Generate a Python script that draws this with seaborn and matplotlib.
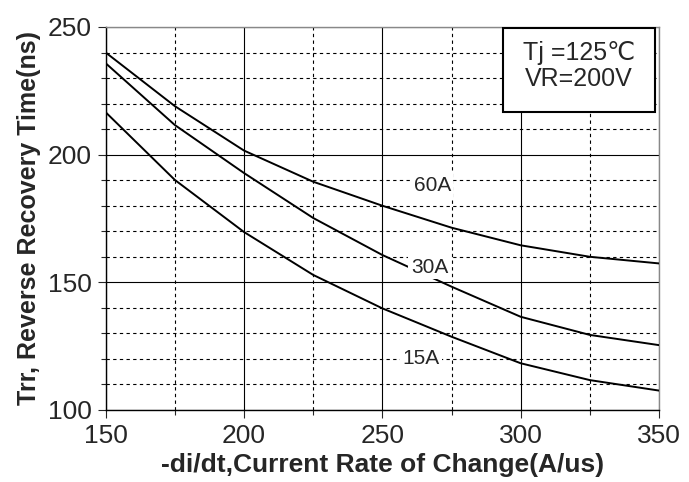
import matplotlib
matplotlib.use("Agg")
import matplotlib.pyplot as plt
from matplotlib.patches import Rectangle
import seaborn as sns
import pandas as pd

# -di/dt (A/us) and reverse recovery time (ns) for each forward current
di_dt = [150, 175, 200, 225, 250, 275, 300, 325, 350]
trr_60a = [240, 219, 201.6, 189.4, 180, 171.4, 164.5, 160, 157.4]
trr_30a = [235.8, 211.6, 192.8, 175.2, 160.7, 148.3, 136.5, 129.4, 125.4]
trr_15a = [216.6, 190.1, 169.7, 152.9, 139.8, 128.7, 118.3, 111.7, 107.6]
currents = ["60A", "30A", "15A"]

df = pd.DataFrame({
    "di_dt": di_dt * 3,
    "trr": trr_60a + trr_30a + trr_15a,
    "current": [c for c in currents for _ in di_dt],
})

sns.set_style("white")
plt.rcParams["font.family"] = ["Liberation Sans", "DejaVu Sans"]

fig = plt.figure(figsize=(6.89, 4.82), dpi=100)
ax = fig.add_axes([0.1534, 0.1494, 0.8031, 0.7946])

sns.lineplot(
    data=df, x="di_dt", y="trr", hue="current",
    palette=["black"] * 3, legend=False, linewidth=1.4, ax=ax, zorder=3,
)

ax.set_xlim(150, 350)
ax.set_ylim(100, 250)
ax.set_xticks(range(150, 351, 50))
ax.set_xticks(range(175, 350, 50), minor=True)
ax.set_yticks(range(100, 251, 50))
ax.set_yticks([v for v in range(110, 250, 10) if v % 50], minor=True)

ax.grid(which="major", color="black", lw=0.8, ls="-")
ax.grid(which="minor", color="black", lw=0.8, ls=(0, (3, 3)))
ax.set_axisbelow(True)

ax.tick_params(which="major", direction="out", length=6, width=0.8,
               labelsize=19, pad=4, left=True, bottom=True)
ax.tick_params(which="minor", direction="out", length=3.5, width=0.8,
               left=True, bottom=True)

for side in ["left", "bottom"]:
    ax.spines[side].set_color("black")
    ax.spines[side].set_linewidth(1.0)
for side in ["top", "right"]:
    ax.spines[side].set_color("#888888")
    ax.spines[side].set_linewidth(1.0)

ax.set_xlabel("-di/dt,Current Rate of Change(A/us)", fontsize=19, fontweight="bold")
ax.set_ylabel("Trr, Reverse Recovery Time(ns)", fontsize=18, fontweight="bold")
ax.xaxis.set_label_coords(0.5, -0.112)
ax.yaxis.set_label_coords(-0.117, 0.5)

# curve labels
lbl = dict(fontsize=15, ha="center", va="center", zorder=4,
           bbox=dict(facecolor="white", edgecolor="none", pad=2))
ax.text(268, 188, "60A", **lbl)
ax.text(267, 156, "30A", **lbl)
ax.text(264, 120, "15A", **lbl)

# conditions box
ax.add_patch(Rectangle((0.718, 0.778), 0.275, 0.219, transform=ax.transAxes,
                       facecolor="white", edgecolor="black", lw=1.5, zorder=5))
ax.text(0.855, 0.898, "Tj =125℃\nVR=200V", transform=ax.transAxes,
        ha="center", va="center", fontsize=18, linespacing=1.1, zorder=6)

fig.savefig("out.png", dpi=100)
